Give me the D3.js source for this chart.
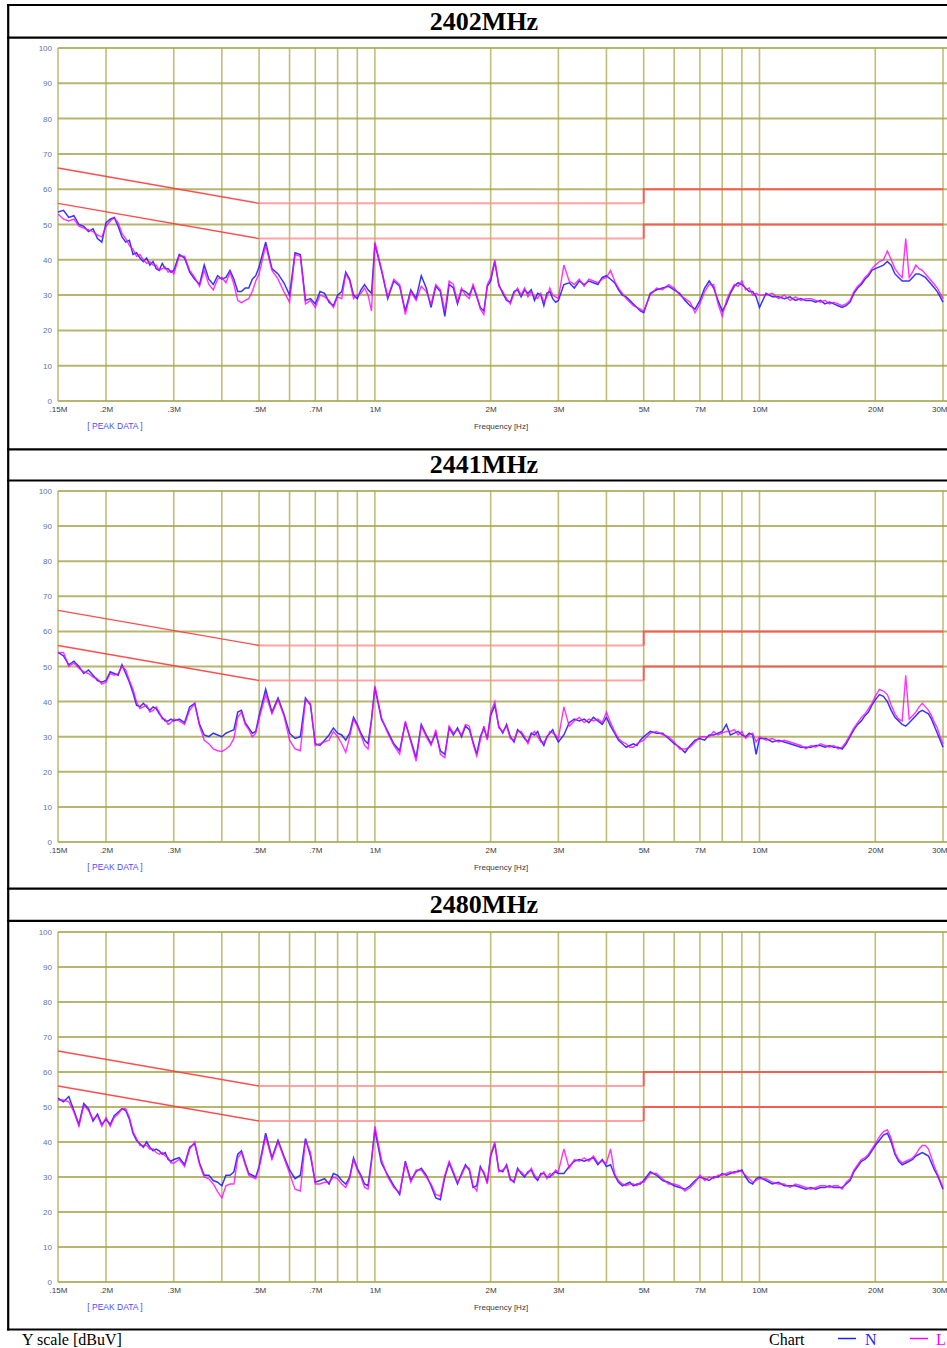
<!DOCTYPE html>
<html><head><meta charset="utf-8">
<script src="https://cdn.jsdelivr.net/npm/d3@7"></script>
<style>body{margin:0;background:#fff;overflow:hidden}svg{display:block}</style>
</head><body><svg id="c" width="947" height="1348"></svg>
<script>
// ---------- DATA ----------
const titles = ["2402MHz", "2441MHz", "2480MHz"];
const freqMHz = [
 0.15,0.155,0.16,0.165,0.17,0.175,0.18,0.185,0.19,0.195,0.2,
 0.205,0.21,0.215,0.22,0.225,0.23,0.235,0.24,0.245,0.25,0.255,0.26,0.265,0.27,0.275,0.28,0.285,0.29,0.295,0.3,
 0.31,0.32,0.33,0.34,0.35,0.36,0.37,0.38,0.39,0.4,0.41,0.42,0.43,0.44,0.45,0.46,0.47,0.48,0.49,0.5,
 0.52,0.54,0.56,0.58,0.6,0.62,0.64,0.66,0.68,0.7,0.72,0.74,0.76,0.78,0.8,0.82,0.84,0.86,0.88,0.9,0.92,0.94,0.96,0.98,1.0,
 1.04,1.08,1.12,1.16,1.2,1.24,1.28,1.32,1.36,1.4,1.44,1.48,1.52,1.56,1.6,1.64,1.68,1.72,1.76,1.8,1.84,1.88,1.92,1.96,2.0,
 2.05,2.1,2.15,2.2,2.25,2.3,2.35,2.4,2.45,2.5,2.55,2.6,2.65,2.7,2.75,2.8,2.85,2.9,2.95,3.0,
 3.1,3.2,3.3,3.4,3.5,3.6,3.7,3.8,3.9,4.0,4.1,4.2,4.3,4.4,4.5,4.6,4.7,4.8,4.9,5.0,
 5.2,5.4,5.6,5.8,6.0,6.2,6.4,6.6,6.8,7.0,7.2,7.4,7.6,7.8,8.0,8.2,8.4,8.6,8.8,9.0,9.2,9.4,9.6,9.8,10,
 10.4,10.8,11.2,11.6,12,12.4,12.8,13.2,13.6,14,14.4,14.8,15.2,15.6,16,16.4,16.8,17.2,17.6,18,18.4,18.8,19.2,19.6,20,
 20.5,21,21.5,22,22.5,23,23.5,24,24.5,25,25.5,26,26.5,27,27.5,28,28.5,29,29.5,30
];
// 2402MHz
const n2402 = [
 53.5,54,52,52.5,50,49.5,48,48.8,46,45,50.5,
 51.5,52,49.5,46.5,45,45.5,41.5,42,40.5,39.5,40.5,38.5,39.5,37.5,37,39,37.5,37.5,36.5,37,
 41.5,40.5,36.5,34.5,33,38.5,34.5,33,35.5,34.5,35,37,34.5,31,31,32,32,34.5,35.5,38,
 45,37.5,36,33.5,30,42,41.5,28.5,29,27.5,31,30.5,28,27,30,31,36.5,34.5,30,29,31.5,33,31.5,30.5,44.5,
 37,29,34,32.5,25.5,31.5,29,35.5,32,26.5,32.5,31,24,33,32,27.5,31.5,31,30,32.5,29.5,26.5,25.5,32.5,34,
 39.5,33,30.5,28.5,28,31,31.5,29.5,31.5,30.5,31.5,28.5,30.5,30,27,30.5,31,29,28,28.5,
 33,33.5,32,34,33,34,33.5,33,35,35.5,34.5,33.5,31.5,30,29.5,28.5,27.5,26.5,25.5,25,
 30.5,31.5,32,32.5,31.5,30.5,28.5,27,26,28.5,32,34,32,28.5,25.5,27.5,30.5,32.5,33.5,33,32,31,31,29.5,26.5,
 30.5,29.5,29.5,29,29.5,28.5,29,28.5,28.5,28,28.5,27.5,28,27.5,27,26.5,27,28,30.5,32,33,34.5,35.5,37,37.5,
 38,38.5,39.5,38.5,36,35,34,34,34,35,36,36,35.5,35,34,33,32,31,29.5,28
];
const l2402 = [
 53,51.5,51,51.5,49.5,49,48.5,48,47,46.5,49.5,
 51,52,50.5,47.5,46,44,43,41,41.5,40,39,39.5,38.5,38.5,37,37.5,38,36.5,37,36,
 41,41,37,35,32.5,37,33,31.5,34.5,35,33.5,36.5,33,28.5,27.8,28.5,29,31,34,36,
 44,37,34.5,31,28,41.5,41,27.5,28.5,26.5,30,29.5,28.5,26.5,29.5,29,36,34,29,30,30.5,32,30,25.5,45,
 37.5,29.5,34.5,33,24.5,31,28.5,32.5,31,27.5,33,31.5,25.5,34,33,28,32,30,29,33,30,26,24.5,33,35,
 40,32.5,31,29,27.5,30.5,32,30,32,29.5,31,29.5,29,30.5,28,29.5,32,30,29.5,29,
 38.5,34,33,34.5,32.5,34.5,34,33.5,34.5,35,37,34,32,30.5,29,28,27,26.5,26,25.5,
 30,32,31.5,33,32,30,29,28,25,27.5,31,33,33,27.5,24,28.5,31,33,32.5,34,31.5,32,30,30.5,30,
 30,30.5,29,30,28.5,29.5,28.5,29,29,28.5,28,28.5,27.5,28,27.5,27,27.5,28.5,31,32.5,33.5,35,36,37.5,38.5,
 39.5,40,42.5,40,37.5,36,35,46,35,36.5,38.5,37.5,37,36,35,34,33,32,30.5,29
];
// 2441MHz
const n2441 = [
 54,53,50.5,51.5,50,48,49,47.5,46,45.5,46,
 48.5,48,47.5,50.5,48,45.5,42.5,39,38.5,39.5,38.5,37.5,38.5,38,36.5,35.5,34.5,34.5,35,34.5,
 35,34,38.5,39.5,33.5,30.5,30,31,30.5,30,31,31.5,32,37,37.5,34,32.5,31,31.5,36,
 43.5,37,41,36.5,31,29.5,30,41,39,28,27.5,29,30.5,32.5,31,30.5,29,31,35.5,33.5,31,29,28,35,44,
 35,31.5,28,26,34,29,24,33.5,30.5,28,31,26,25,32.5,30.5,32.5,30,33,32,28.5,25,30,32.5,29.5,36,
 39,33,31,33.5,30,28.5,32,31,29.5,28.5,31,30.5,31.5,29,27.5,30,31,32,30,28.5,
 30.5,34,35,34.5,35,34,35.5,34.5,33.5,35.5,33,31,29,28,27,27.5,28,27.5,29,30,
 31.5,31,31,29.5,28,27,25.5,27.5,29,29.5,29,30.5,30.5,31,31.5,33.5,30.5,31,31.5,30.5,30,31,30.5,25,29.5,
 29.5,28.5,29,28.5,28,27.5,27,27,27,27.5,27.5,27,27.5,27,27,26.5,28,30,32,33.5,34.5,36,37,39,40.5,
 42,41.5,40,37.5,35.5,34.5,33.5,33,34,35,36,37,37.5,37,36.5,35,33,31,29,27
];
const l2441 = [
 54,54,50,51,49.5,48.5,48,47,46.5,45,45.5,
 48,47.5,48,50,49,46,43.5,40,38,38.5,39,37,37.5,38.5,37,35,35,33.5,34,35,
 34.5,33.5,37.5,39.5,33,29,28,26.5,26,25.8,26.5,27.5,29.5,35.5,37,33.5,32,30,31,35,
 42,36.5,40.5,36,29,26.5,26,40.5,39.5,27.5,28,28.5,29,31.5,30,28,25.5,30,35,33,30.5,27.5,26.5,34.5,44.5,
 35.5,31,27.5,25,34.5,28.5,23,33,30,27.5,32,25,24,33,31,32,30.5,33.5,33,28,24.5,29,33,29,37,
 40,32.5,31.5,33,29.5,29,31.5,31.5,30,28,30.5,31.5,30,28.5,28.5,29.5,31.5,31,30.5,29.5,
 38.5,33,34.5,35.5,34,35,34.5,35,34,37,34,31.5,29.5,28.5,28,27,27,28,28.5,29,
 31,31.5,30.5,30,28.5,26.5,26.5,27,28.5,30,30,30,31.5,30.5,31,31.5,31.5,32,30.5,31.5,29.5,30.5,31,28.5,30,
 29,29.5,28.5,29,28.5,28,27.5,26.5,27.5,27,28,27.5,27,27.5,26.5,27,28.5,30.5,32.5,34,35.5,36.5,38,39.5,41.5,
 43.5,43,42,39,36.5,35,34.5,47.5,35,36,37,38.5,39.5,38.5,37.5,36,34,32.5,30,28
];
// 2480MHz
const n2480 = [
 52.5,51.5,53,49,45,51,49.5,46,48,45,46.5,
 45,47.5,48.5,49.5,49,46.5,42.5,40.5,39.5,38.5,40,38.5,37.5,38,37.5,36.5,37,35,34.5,35,
 35.5,33.5,38.5,39.5,34,30.5,30.5,29,28.5,27.5,30.5,30.5,31.5,36.5,37.5,34,31,30.5,30,33,
 42.5,35.5,40.5,36,32,29.5,30.5,41,36,28.5,29,29.5,28,31,30.5,29,28,30,35.5,32.5,30.5,28,27.5,35,43.5,
 34,30.5,27.5,25,34.5,29,31.5,32.5,30.5,27.5,24,23.5,30,34,31,28,31,33.5,32,27,27.5,33,31,28.5,36,
 39.5,32,31.5,33.5,29.5,28.5,32.5,31,30,31.5,32,30,29,31,31,30,30,31,31.5,31,
 31,33,34.5,35,34.5,35,35.5,33.5,35,33,33.5,30.5,28.5,27.5,28,28.5,27.5,28,28,29,
 31.5,30.5,29,28.5,27.5,27,26.5,27.5,29,30,29.5,29,30,30,31,30.5,31,31.5,31.5,32,30,28.5,28,29.5,30,
 29,28,28.5,27.5,27.5,27.5,27,26.5,27,26.5,27,27,27.5,27,27,27,28,29,31.5,33,34.5,35,36,37.5,39,
 40.5,42,42.5,40,36.5,34.5,33.5,34,34.5,35,36,36.5,37,36.5,36,34,32,30.5,28.5,26.5
];
const l2480 = [
 52,52,51.5,48.5,44.5,50.5,49,46.5,47.5,44.5,47,
 44.5,47,48,49.5,49.5,47,43,41,39,39,39,38,38,37,36.5,37,36,35.5,34,34,
 35,33,38,40,33.5,30,29.5,28,25.8,24,27.5,28,28,35.5,37,33.5,30.5,30,29.5,32.5,
 41.5,35,40,35.5,31,26.5,26,40.5,37,28,28,28.5,28.5,30,29.5,28,27,29.5,35,32,30,27,26.5,34,44.5,
 35,30,27,25.5,34,28.5,32,32,30,28,25,24.5,30.5,34.5,31.5,28.5,30.5,33,32.5,27.5,26,32.5,31.5,28,36.5,
 40,31.5,32,33,29,29,32,31.5,30.5,31,32.5,30.5,29.5,30.5,31.5,29.5,31,30.5,32,31.5,
 38,32.5,35,34.5,35.5,34.5,36,34,34.5,34,38,31,29,28,27.5,28,28,27.5,28.5,28.5,
 31,31,29.5,28,28,27.5,26,27,28.5,30.5,29,30,29.5,30.5,30.5,31,31.5,31,32,31.5,30.5,29.5,28.5,29,29.5,
 29.5,28.5,28,28,27,28,27.5,27,26.5,27,27.5,27.5,27,27.5,27.5,26.5,28.5,29.5,32,33.5,35,35.5,36.5,38,39.5,
 41.5,43,43.5,41,37,35,34,34.5,35,35.5,36.5,38,39,39,38,35.5,33,31,29,27
];
// Limit lines (conducted emission limits)
const limitFreq = [0.15, 0.5, 5, 5, 30];
const limitQP = [66, 56, 56, 60, 60];
const limitAV = [56, 46, 46, 50, 50];
// Axis ticks
const yTicks = [0, 10, 20, 30, 40, 50, 60, 70, 80, 90, 100];
const gridFreq = [0.15,0.2,0.3,0.4,0.5,0.6,0.7,0.8,0.9,1,2,3,4,5,6,7,8,9,10,20,30];
const xTickFreq = [0.15,0.2,0.3,0.5,0.7,1,2,3,5,7,10,20,30];
const xTickText = [".15M",".2M",".3M",".5M",".7M","1M","2M","3M","5M","7M","10M","20M","30M"];
const seriesN = [n2402, n2441, n2480];
const seriesL = [l2402, l2441, l2480];

// ---------- DRAW ----------
const svg = d3.select("#c");
const x = d3.scaleLog().domain([0.15, 30]).range([58, 943]);
const layout = [
  {tTop: 5, tBot: 37.7, top: 48, bottom: 401},
  {tTop: 449.3, tBot: 480.5, top: 491, bottom: 842},
  {tTop: 888.7, tBot: 920.8, top: 932, bottom: 1282}
];
const defs = svg.append("defs");

layout.forEach((L, i) => {
  const y = d3.scaleLinear().domain([0, 100]).range([L.bottom, L.top]);
  const g = svg.append("g");
  // title
  g.append("text").attr("x", 484).attr("y", (L.tTop + L.tBot) / 2 + 8.5)
    .attr("text-anchor", "middle").attr("font-family", "Liberation Serif, Times New Roman, serif")
    .attr("font-weight", "bold").attr("font-size", 26).attr("fill", "#000").text(titles[i]);
  // vertical grid
  g.append("g").selectAll("line").data(gridFreq).join("line")
    .attr("x1", d => x(d)).attr("x2", d => x(d)).attr("y1", L.top).attr("y2", L.bottom)
    .attr("stroke", "#b5b562").attr("stroke-width", 1.6).attr("opacity", 0.85);
  // horizontal grid
  g.append("g").selectAll("line").data(yTicks).join("line")
    .attr("x1", 58).attr("x2", 947).attr("y1", d => y(d)).attr("y2", d => y(d))
    .attr("stroke", "#a5a54a").attr("stroke-width", 2).attr("opacity", 0.8);
  // y axis labels
  const ya = d3.axisLeft(y).tickValues(yTicks).tickSize(0).tickPadding(0);
  const yg = g.append("g").attr("transform", "translate(52,0)").call(ya);
  yg.select(".domain").remove();
  yg.selectAll("text").attr("font-family", "Liberation Sans, Arial, sans-serif")
    .attr("font-size", 8).attr("fill", "#5578b0");
  // x axis labels
  const xa = d3.axisBottom(x).tickValues(xTickFreq).tickSize(0).tickPadding(0)
    .tickFormat((d, k) => xTickText[k]);
  const xg = g.append("g").attr("transform", `translate(0,${L.bottom + 5})`).call(xa);
  xg.select(".domain").remove();
  xg.selectAll("text").attr("font-family", "Liberation Sans, Arial, sans-serif")
    .attr("font-size", 8).attr("fill", "#3a3a3a");
  // keep the last label inside the page
  xg.selectAll(".tick").filter(d => d === 30).select("text")
    .attr("text-anchor", "end").attr("dx", 4);
  g.append("text").attr("x", 115).attr("y", L.bottom + 28).attr("text-anchor", "middle")
    .attr("font-family", "Liberation Sans, Arial, sans-serif").attr("font-size", 8.5)
    .attr("fill", "#4a4aff").text("[ PEAK DATA ]");
  g.append("text").attr("x", 501).attr("y", L.bottom + 28).attr("text-anchor", "middle")
    .attr("font-family", "Liberation Sans, Arial, sans-serif").attr("font-size", 8)
    .attr("fill", "#3a3a3a").text("Frequency [Hz]");
  // limits
  const limLine = d3.line().x(d => x(d[0])).y(d => y(d[1]));
  [limitQP, limitAV].forEach(lim => {
    const pts = limitFreq.map((f, k) => [f, lim[k]]);
    g.append("path").attr("d", limLine(pts.slice(0, 2))).attr("fill", "none")
      .attr("stroke", "#ff3a3a").attr("stroke-width", 1.4).attr("opacity", 0.9);
    g.append("path").attr("d", limLine(pts.slice(1, 3))).attr("fill", "none")
      .attr("stroke", "#ff8c8c").attr("stroke-width", 2).attr("opacity", 0.8);
    g.append("path").attr("d", limLine(pts.slice(2))).attr("fill", "none")
      .attr("stroke", "#ff4d4d").attr("stroke-width", 2).attr("opacity", 0.85);
  });
  // traces
  const cid = "clip" + i;
  defs.append("clipPath").attr("id", cid).append("rect")
    .attr("x", 58).attr("y", L.top).attr("width", 889).attr("height", L.bottom - L.top);
  const tr = d3.line().x((d, k) => x(freqMHz[k])).y(d => y(d));
  g.append("path").attr("clip-path", `url(#${cid})`).attr("d", tr(seriesN[i]))
    .attr("fill", "none").attr("stroke", "#1f1fff").attr("stroke-width", 1.5).attr("opacity", 0.9);
  g.append("path").attr("clip-path", `url(#${cid})`).attr("d", tr(seriesL[i]))
    .attr("fill", "none").attr("stroke", "#ff00ff").attr("stroke-width", 1.4).attr("opacity", 0.8);
});

// table borders
const hLines = [5, 37.7, 449.3, 480.5, 888.7, 920.8, 1329.5];
svg.append("g").selectAll("line").data(hLines).join("line")
  .attr("x1", 7).attr("x2", 947).attr("y1", d => d).attr("y2", d => d)
  .attr("stroke", "#000").attr("stroke-width", 2.2);
svg.append("line").attr("x1", 8.2).attr("x2", 8.2).attr("y1", 4).attr("y2", 1330.6)
  .attr("stroke", "#000").attr("stroke-width", 2.2);

// footer
const ff = "Liberation Serif, Times New Roman, serif";
svg.append("text").attr("x", 22).attr("y", 1345).attr("font-family", ff).attr("font-size", 16)
  .attr("fill", "#000").text("Y scale [dBuV]");
svg.append("text").attr("x", 769).attr("y", 1345).attr("font-family", ff).attr("font-size", 16)
  .attr("fill", "#000").text("Chart");
svg.append("line").attr("x1", 838).attr("x2", 856).attr("y1", 1338.5).attr("y2", 1338.5)
  .attr("stroke", "#1f1fff").attr("stroke-width", 1.5);
svg.append("text").attr("x", 865).attr("y", 1345).attr("font-family", ff).attr("font-size", 16)
  .attr("fill", "#1f1fff").text("N");
svg.append("line").attr("x1", 910).attr("x2", 928).attr("y1", 1338.5).attr("y2", 1338.5)
  .attr("stroke", "#ff00ff").attr("stroke-width", 1.5);
svg.append("text").attr("x", 936).attr("y", 1345).attr("font-family", ff).attr("font-size", 16)
  .attr("fill", "#ff00ff").text("L");
</script></body></html>
